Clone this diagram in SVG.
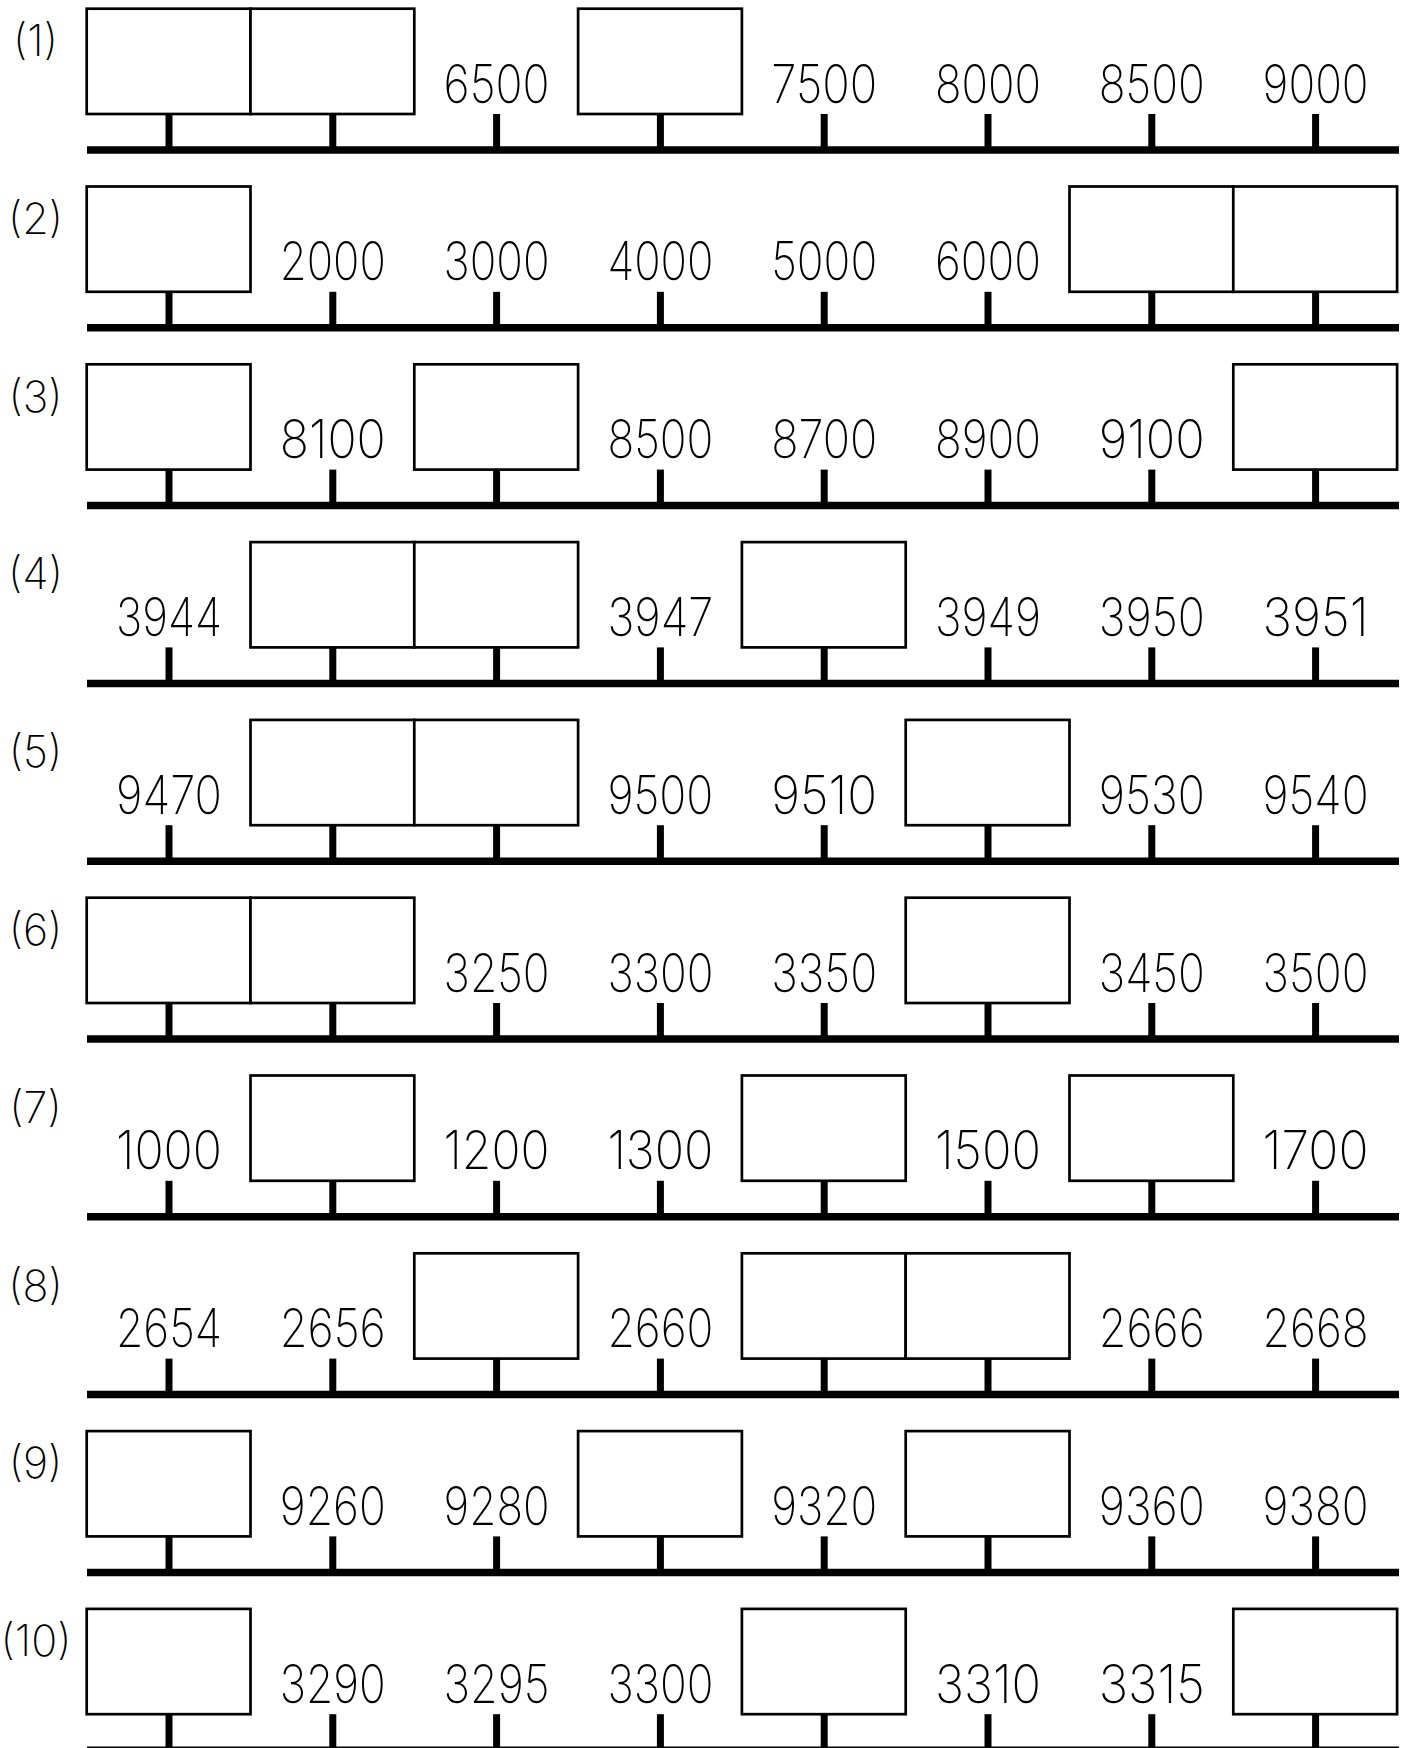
<svg xmlns="http://www.w3.org/2000/svg" xmlns:xlink="http://www.w3.org/1999/xlink" width="1408" height="1748" viewBox="0 0 1408 1748">
<style>
.box{fill:#fff;stroke:#000;stroke-width:2.7}
.ax{stroke:#000;stroke-width:7.5;fill:none}
.tk{stroke:#000;stroke-width:7;fill:none}
.num{font-family:Inter,"Liberation Sans",sans-serif;font-weight:200;font-size:53px;fill:#000;text-anchor:middle}
.lab{font-family:Inter,"Liberation Sans",sans-serif;font-weight:200;font-size:43px;fill:#000;text-anchor:middle}
</style>
<defs>
<g id="axis">
<line class="ax" x1="87" y1="150" x2="1399" y2="150"/>
<line class="tk" x1="169" y1="114" x2="169" y2="150"/>
<line class="tk" x1="332.8" y1="114" x2="332.8" y2="150"/>
<line class="tk" x1="496.6" y1="114" x2="496.6" y2="150"/>
<line class="tk" x1="660.4" y1="114" x2="660.4" y2="150"/>
<line class="tk" x1="824.2" y1="114" x2="824.2" y2="150"/>
<line class="tk" x1="988" y1="114" x2="988" y2="150"/>
<line class="tk" x1="1151.8" y1="114" x2="1151.8" y2="150"/>
<line class="tk" x1="1315.6" y1="114" x2="1315.6" y2="150"/>
</g>
</defs>
<rect width="1408" height="1748" fill="#fff"/>
<g id="connectors">
<use xlink:href="#axis" href="#axis" y="0"/>
<use xlink:href="#axis" href="#axis" y="177.8"/>
<use xlink:href="#axis" href="#axis" y="355.6"/>
<use xlink:href="#axis" href="#axis" y="533.4"/>
<use xlink:href="#axis" href="#axis" y="711.2"/>
<use xlink:href="#axis" href="#axis" y="889"/>
<use xlink:href="#axis" href="#axis" y="1066.8"/>
<use xlink:href="#axis" href="#axis" y="1244.6"/>
<use xlink:href="#axis" href="#axis" y="1422.4"/>
<use xlink:href="#axis" href="#axis" y="1600.2"/>
</g>
<g id="row1" transform="translate(0,0)">
<text class="lab" x="35.5" y="56">(1)</text>
<rect class="box" x="86.7" y="8.7" width="163.8" height="105.3"/>
<rect class="box" x="250.5" y="8.7" width="163.8" height="105.3"/>
<text class="num" x="496.6" y="102.7" textLength="106" lengthAdjust="spacingAndGlyphs">6500</text>
<rect class="box" x="578.1" y="8.7" width="163.8" height="105.3"/>
<text class="num" x="824.2" y="102.7" textLength="106" lengthAdjust="spacingAndGlyphs">7500</text>
<text class="num" x="988" y="102.7" textLength="106" lengthAdjust="spacingAndGlyphs">8000</text>
<text class="num" x="1151.8" y="102.7" textLength="106" lengthAdjust="spacingAndGlyphs">8500</text>
<text class="num" x="1315.6" y="102.7" textLength="106" lengthAdjust="spacingAndGlyphs">9000</text>
</g>
<g id="row2" transform="translate(0,177.8)">
<text class="lab" x="35.5" y="56">(2)</text>
<rect class="box" x="86.7" y="8.7" width="163.8" height="105.3"/>
<text class="num" x="332.8" y="102.7" textLength="106" lengthAdjust="spacingAndGlyphs">2000</text>
<text class="num" x="496.6" y="102.7" textLength="106" lengthAdjust="spacingAndGlyphs">3000</text>
<text class="num" x="660.4" y="102.7" textLength="106" lengthAdjust="spacingAndGlyphs">4000</text>
<text class="num" x="824.2" y="102.7" textLength="106" lengthAdjust="spacingAndGlyphs">5000</text>
<text class="num" x="988" y="102.7" textLength="106" lengthAdjust="spacingAndGlyphs">6000</text>
<rect class="box" x="1069.5" y="8.7" width="163.8" height="105.3"/>
<rect class="box" x="1233.3" y="8.7" width="163.8" height="105.3"/>
</g>
<g id="row3" transform="translate(0,355.6)">
<text class="lab" x="35.5" y="56">(3)</text>
<rect class="box" x="86.7" y="8.7" width="163.8" height="105.3"/>
<text class="num" x="332.8" y="102.7" textLength="106" lengthAdjust="spacingAndGlyphs">8100</text>
<rect class="box" x="414.3" y="8.7" width="163.8" height="105.3"/>
<text class="num" x="660.4" y="102.7" textLength="106" lengthAdjust="spacingAndGlyphs">8500</text>
<text class="num" x="824.2" y="102.7" textLength="106" lengthAdjust="spacingAndGlyphs">8700</text>
<text class="num" x="988" y="102.7" textLength="106" lengthAdjust="spacingAndGlyphs">8900</text>
<text class="num" x="1151.8" y="102.7" textLength="106" lengthAdjust="spacingAndGlyphs">9100</text>
<rect class="box" x="1233.3" y="8.7" width="163.8" height="105.3"/>
</g>
<g id="row4" transform="translate(0,533.4)">
<text class="lab" x="35.5" y="56">(4)</text>
<text class="num" x="169" y="102.7" textLength="106" lengthAdjust="spacingAndGlyphs">3944</text>
<rect class="box" x="250.5" y="8.7" width="163.8" height="105.3"/>
<rect class="box" x="414.3" y="8.7" width="163.8" height="105.3"/>
<text class="num" x="660.4" y="102.7" textLength="106" lengthAdjust="spacingAndGlyphs">3947</text>
<rect class="box" x="741.9" y="8.7" width="163.8" height="105.3"/>
<text class="num" x="988" y="102.7" textLength="106" lengthAdjust="spacingAndGlyphs">3949</text>
<text class="num" x="1151.8" y="102.7" textLength="106" lengthAdjust="spacingAndGlyphs">3950</text>
<text class="num" x="1315.6" y="102.7" textLength="106" lengthAdjust="spacingAndGlyphs">3951</text>
</g>
<g id="row5" transform="translate(0,711.2)">
<text class="lab" x="35.5" y="56">(5)</text>
<text class="num" x="169" y="102.7" textLength="106" lengthAdjust="spacingAndGlyphs">9470</text>
<rect class="box" x="250.5" y="8.7" width="163.8" height="105.3"/>
<rect class="box" x="414.3" y="8.7" width="163.8" height="105.3"/>
<text class="num" x="660.4" y="102.7" textLength="106" lengthAdjust="spacingAndGlyphs">9500</text>
<text class="num" x="824.2" y="102.7" textLength="106" lengthAdjust="spacingAndGlyphs">9510</text>
<rect class="box" x="905.7" y="8.7" width="163.8" height="105.3"/>
<text class="num" x="1151.8" y="102.7" textLength="106" lengthAdjust="spacingAndGlyphs">9530</text>
<text class="num" x="1315.6" y="102.7" textLength="106" lengthAdjust="spacingAndGlyphs">9540</text>
</g>
<g id="row6" transform="translate(0,889)">
<text class="lab" x="35.5" y="56">(6)</text>
<rect class="box" x="86.7" y="8.7" width="163.8" height="105.3"/>
<rect class="box" x="250.5" y="8.7" width="163.8" height="105.3"/>
<text class="num" x="496.6" y="102.7" textLength="106" lengthAdjust="spacingAndGlyphs">3250</text>
<text class="num" x="660.4" y="102.7" textLength="106" lengthAdjust="spacingAndGlyphs">3300</text>
<text class="num" x="824.2" y="102.7" textLength="106" lengthAdjust="spacingAndGlyphs">3350</text>
<rect class="box" x="905.7" y="8.7" width="163.8" height="105.3"/>
<text class="num" x="1151.8" y="102.7" textLength="106" lengthAdjust="spacingAndGlyphs">3450</text>
<text class="num" x="1315.6" y="102.7" textLength="106" lengthAdjust="spacingAndGlyphs">3500</text>
</g>
<g id="row7" transform="translate(0,1066.8)">
<text class="lab" x="35.5" y="56">(7)</text>
<text class="num" x="169" y="102.7" textLength="106" lengthAdjust="spacingAndGlyphs">1000</text>
<rect class="box" x="250.5" y="8.7" width="163.8" height="105.3"/>
<text class="num" x="496.6" y="102.7" textLength="106" lengthAdjust="spacingAndGlyphs">1200</text>
<text class="num" x="660.4" y="102.7" textLength="106" lengthAdjust="spacingAndGlyphs">1300</text>
<rect class="box" x="741.9" y="8.7" width="163.8" height="105.3"/>
<text class="num" x="988" y="102.7" textLength="106" lengthAdjust="spacingAndGlyphs">1500</text>
<rect class="box" x="1069.5" y="8.7" width="163.8" height="105.3"/>
<text class="num" x="1315.6" y="102.7" textLength="106" lengthAdjust="spacingAndGlyphs">1700</text>
</g>
<g id="row8" transform="translate(0,1244.6)">
<text class="lab" x="35.5" y="56">(8)</text>
<text class="num" x="169" y="102.7" textLength="106" lengthAdjust="spacingAndGlyphs">2654</text>
<text class="num" x="332.8" y="102.7" textLength="106" lengthAdjust="spacingAndGlyphs">2656</text>
<rect class="box" x="414.3" y="8.7" width="163.8" height="105.3"/>
<text class="num" x="660.4" y="102.7" textLength="106" lengthAdjust="spacingAndGlyphs">2660</text>
<rect class="box" x="741.9" y="8.7" width="163.8" height="105.3"/>
<rect class="box" x="905.7" y="8.7" width="163.8" height="105.3"/>
<text class="num" x="1151.8" y="102.7" textLength="106" lengthAdjust="spacingAndGlyphs">2666</text>
<text class="num" x="1315.6" y="102.7" textLength="106" lengthAdjust="spacingAndGlyphs">2668</text>
</g>
<g id="row9" transform="translate(0,1422.4)">
<text class="lab" x="35.5" y="56">(9)</text>
<rect class="box" x="86.7" y="8.7" width="163.8" height="105.3"/>
<text class="num" x="332.8" y="102.7" textLength="106" lengthAdjust="spacingAndGlyphs">9260</text>
<text class="num" x="496.6" y="102.7" textLength="106" lengthAdjust="spacingAndGlyphs">9280</text>
<rect class="box" x="578.1" y="8.7" width="163.8" height="105.3"/>
<text class="num" x="824.2" y="102.7" textLength="106" lengthAdjust="spacingAndGlyphs">9320</text>
<rect class="box" x="905.7" y="8.7" width="163.8" height="105.3"/>
<text class="num" x="1151.8" y="102.7" textLength="106" lengthAdjust="spacingAndGlyphs">9360</text>
<text class="num" x="1315.6" y="102.7" textLength="106" lengthAdjust="spacingAndGlyphs">9380</text>
</g>
<g id="row10" transform="translate(0,1600.2)">
<text class="lab" x="36" y="56">(10)</text>
<rect class="box" x="86.7" y="8.7" width="163.8" height="105.3"/>
<text class="num" x="332.8" y="102.7" textLength="106" lengthAdjust="spacingAndGlyphs">3290</text>
<text class="num" x="496.6" y="102.7" textLength="106" lengthAdjust="spacingAndGlyphs">3295</text>
<text class="num" x="660.4" y="102.7" textLength="106" lengthAdjust="spacingAndGlyphs">3300</text>
<rect class="box" x="741.9" y="8.7" width="163.8" height="105.3"/>
<text class="num" x="988" y="102.7" textLength="106" lengthAdjust="spacingAndGlyphs">3310</text>
<text class="num" x="1151.8" y="102.7" textLength="106" lengthAdjust="spacingAndGlyphs">3315</text>
<rect class="box" x="1233.3" y="8.7" width="163.8" height="105.3"/>
</g>
</svg>
